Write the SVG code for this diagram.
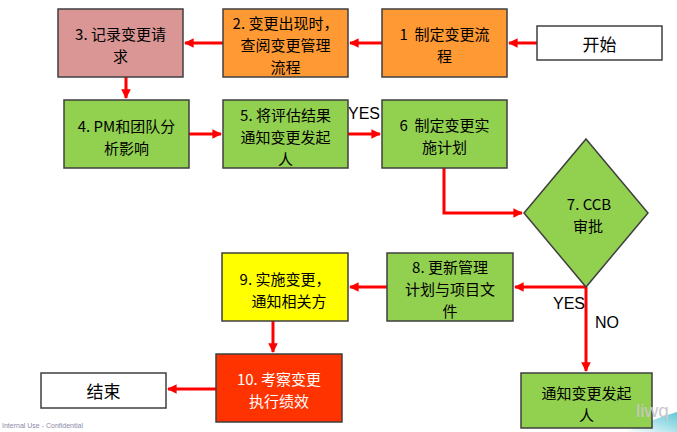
<svg xmlns="http://www.w3.org/2000/svg" width="677" height="432" viewBox="0 0 677 432">
<style>
.box{stroke:#3f3f3f;stroke-width:1.5}
.t{font-family:"Noto Sans CJK SC","Noto Sans",sans-serif;font-size:15px;fill:#000;text-anchor:middle;dominant-baseline:central}
.lbl{font-family:"Liberation Sans","Noto Sans",sans-serif;font-size:16px;fill:#000;dominant-baseline:central}
.c{stroke:#ff0000;stroke-width:3;fill:none;marker-end:url(#ah)}
.green{fill:#92d050}.orange{fill:#ff9933}.pink{fill:#d99694}.white{fill:#fff}.yellow{fill:#ffff00}.red{fill:#ff3300}
</style>
<defs>
<marker id="ah" viewBox="0 0 10 10" refX="9" refY="5" markerWidth="3.2" markerHeight="3.2" orient="auto" markerUnits="strokeWidth">
<path d="M0,0 L10,5 L0,10 z" fill="#ff0000"/>
</marker>
<linearGradient id="sw" x1="0" y1="1" x2="1" y2="0">
<stop offset="0" stop-color="#ffffff"/>
<stop offset="1" stop-color="#5fc8d8"/>
</linearGradient>
</defs>
<rect width="677" height="432" fill="#fff"/>
<path d="M625,432 Q650,420 677,412 L677,432 Z" fill="url(#sw)"/>

<g id="connectors">
<line class="c" x1="537" y1="43" x2="509" y2="43"/>
<line class="c" x1="382" y1="43" x2="350" y2="43"/>
<line class="c" x1="223" y1="43" x2="185" y2="43"/>
<line class="c" x1="126" y1="77" x2="126" y2="98"/>
<line class="c" x1="189" y1="134" x2="221" y2="134"/>
<line class="c" x1="348" y1="134" x2="380" y2="134"/>
<polyline class="c" points="444,168 444,213 522,213"/>
<line class="c" x1="586" y1="287" x2="515" y2="287"/>
<line class="c" x1="586" y1="287" x2="586" y2="371"/>
<line class="c" x1="387" y1="287" x2="350" y2="287"/>
<line class="c" x1="273" y1="321" x2="273" y2="352"/>
<line class="c" x1="216" y1="389" x2="168" y2="389"/>
<text class="lbl" x="348" y="113">YES</text>
<text class="lbl" x="553" y="303">YES</text>
<text class="lbl" x="595" y="322">NO</text>
</g>

<g id="start"><rect class="box white" x="537" y="26" width="125" height="34"/><text class="t" x="599.5" y="43" style="font-size:17px">开始</text></g>
<g id="n1"><rect class="box orange" x="382" y="9" width="125" height="68"/><text class="t" x="444.5" y="33">1&#160;&#160;制定变更流<tspan x="444.5" dy="22">程</tspan></text></g>
<g id="n2"><rect class="box orange" x="223" y="9" width="125" height="68"/><text class="t" x="285.5" y="22">2. 变更出现时，<tspan x="285.5" dy="22">查阅变更管理</tspan><tspan x="285.5" dy="22">流程</tspan></text></g>
<g id="n3"><rect class="box pink" x="58" y="9" width="125" height="68"/><text class="t" x="120.5" y="33">3. 记录变更请<tspan x="120.5" dy="22">求</tspan></text></g>
<g id="n4"><rect class="box green" x="64" y="100" width="125" height="68"/><text class="t" x="126.5" y="125">4. PM和团队分<tspan x="126.5" dy="22">析影响</tspan></text></g>
<g id="n5"><rect class="box green" x="223" y="100" width="125" height="68"/><text class="t" x="285.5" y="114">5. 将评估结果<tspan x="285.5" dy="22">通知变更发起</tspan><tspan x="285.5" dy="22">人</tspan></text></g>
<g id="n6"><rect class="box green" x="382" y="100" width="125" height="68"/><text class="t" x="444.5" y="124">6&#160;&#160;制定变更实<tspan x="444.5" dy="22">施计划</tspan></text></g>
<g id="n7"><polygon class="box green" points="586,139 648,213 586,287 524,213"/><text class="t" x="589" y="203">7. CCB<tspan x="588" dy="22">审批</tspan></text></g>
<g id="n8"><rect class="box green" x="387" y="253" width="126" height="68"/><text class="t" x="450" y="266">8. 更新管理<tspan x="450" dy="22">计划与项目文</tspan><tspan x="450" dy="22">件</tspan></text></g>
<g id="n9"><rect class="box yellow" x="222" y="253" width="126" height="68"/><text class="t" x="285" y="278">9. 实施变更，<tspan x="289" dy="22">通知相关方</tspan></text></g>
<g id="n10"><rect class="box red" x="216" y="354" width="126" height="68"/><text class="t" x="279" y="378" style="fill:#fff">10. 考察变更<tspan x="279" dy="22">执行绩效</tspan></text></g>
<g id="end"><rect class="box white" x="41" y="373" width="125" height="35"/><text class="t" x="103.5" y="390" style="font-size:17px">结束</text></g>
<g id="notify"><rect class="box green" x="521" y="373" width="131" height="55"/><text class="t" x="586.5" y="392">通知变更发起<tspan x="586.5" dy="22">人</tspan></text></g>

<text x="2" y="428" style="font-family:'Liberation Sans',sans-serif;font-size:7px;fill:#8a8aa8">Internal Use - Confidential</text>
<text x="636" y="417" style="font-family:'Liberation Sans',sans-serif;font-size:19px;fill:#c8c8c8">liwq</text>
</svg>
